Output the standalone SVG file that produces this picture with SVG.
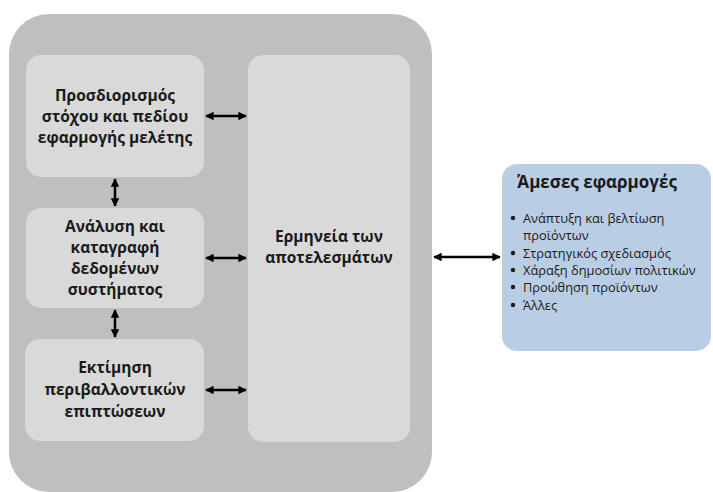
<svg xmlns="http://www.w3.org/2000/svg" width="713" height="492" viewBox="0 0 713 492">
<style>
.outer{fill:#bfbfbf}
.box{fill:#d9d9d9}
.blue{fill:#b9cde5}
.t{font-family:"Open Sans","Liberation Sans",sans-serif;font-weight:bold;font-size:15.5px;fill:#1a1a1a;text-anchor:middle}
.h{font-size:17px}
.l{font-family:"Open Sans","Liberation Sans",sans-serif;font-size:12.8px;fill:#1a1a1a}
.c{stroke:#000;stroke-width:2.5;fill:none;marker-start:url(#ah);marker-end:url(#ah)}
</style>
<defs>
<marker id="ah" viewBox="0 0 10 10" refX="9" refY="5" markerWidth="3.4" markerHeight="3.4" orient="auto-start-reverse" markerUnits="strokeWidth">
<path d="M0,0 L10,5 L0,10 z" fill="#000"/>
</marker>
</defs>
<g id="container"><rect class="outer" x="9" y="14" width="423" height="478" rx="40"/></g>
<g id="n1"><rect class="box" x="26" y="55" width="178" height="122" rx="15"/>
<text class="t" x="115" y="101">Προσδιορισμός</text>
<text class="t" x="115" y="122">στόχου και πεδίου</text>
<text class="t" x="115" y="143">εφαρμογής μελέτης</text></g>
<g id="n2"><rect class="box" x="26" y="208" width="178" height="100" rx="15"/>
<text class="t" x="115" y="232">Ανάλυση και</text>
<text class="t" x="115" y="253">καταγραφή</text>
<text class="t" x="115" y="274">δεδομένων</text>
<text class="t" x="115" y="295">συστήματος</text></g>
<g id="n3"><rect class="box" x="25" y="339" width="179" height="102" rx="15"/>
<text class="t" x="115" y="373">Εκτίμηση</text>
<text class="t" x="115" y="395">περιβαλλοντικών</text>
<text class="t" x="115" y="417">επιπτώσεων</text></g>
<g id="n4"><rect class="box" x="248" y="55" width="162" height="387" rx="15"/>
<text class="t" x="329" y="242">Ερμηνεία των</text>
<text class="t" x="329" y="263">αποτελεσμάτων</text></g>
<g id="n5"><rect class="blue" x="502" y="164" width="209" height="187" rx="15"/>
<text class="t h" x="597" y="188">Άμεσες εφαρμογές</text>
<g class="l">
<circle cx="513" cy="218" r="2.2"/><text x="523" y="223">Ανάπτυξη και βελτίωση</text>
<text x="523" y="240">προϊόντων</text>
<circle cx="513" cy="253" r="2.2"/><text x="523" y="258">Στρατηγικός σχεδιασμός</text>
<circle cx="513" cy="270" r="2.2"/><text x="523" y="275">Χάραξη δημοσίων πολιτικών</text>
<circle cx="513" cy="287" r="2.2"/><text x="523" y="292">Προώθηση προϊόντων</text>
<circle cx="513" cy="305" r="2.2"/><text x="523" y="310">Άλλες</text>
</g></g>
<g id="connectors">
<line class="c" x1="206" y1="116" x2="246" y2="116"/>
<line class="c" x1="206" y1="258" x2="246" y2="258"/>
<line class="c" x1="206" y1="390" x2="246" y2="390"/>
<line class="c" x1="115" y1="179" x2="115" y2="206"/>
<line class="c" x1="115" y1="310" x2="115" y2="337"/>
<line class="c" x1="434" y1="257" x2="500" y2="257"/>
</g>
</svg>
